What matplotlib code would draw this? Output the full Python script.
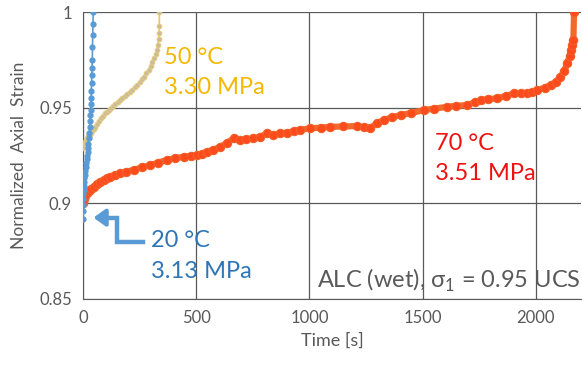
import matplotlib
matplotlib.use("Agg")
import matplotlib.pyplot as plt

plt.rcParams['font.family'] = ['Lato', 'DejaVu Sans']
plt.rcParams['mathtext.fontset'] = 'custom'
plt.rcParams['mathtext.rm'] = 'Lato'

# 20 C, 3.13 MPa
t20 = [0, 0, 0, 0.5, 1, 2, 3, 4, 5, 7, 9, 11, 13, 15, 17, 19, 21, 23, 25, 27,
       29, 31, 32, 33, 34, 35, 36, 37, 38, 39, 40, 41, 42, 43, 44]
e20 = [0.892, 0.896, 0.899, 0.902, 0.905, 0.907, 0.909, 0.911, 0.913, 0.915,
       0.917, 0.919, 0.921, 0.923, 0.925, 0.927, 0.929, 0.931, 0.934, 0.937,
       0.940, 0.943, 0.946, 0.949, 0.952, 0.955, 0.959, 0.963, 0.967, 0.971,
       0.975, 0.982, 0.988, 0.994, 1.0]

# 50 C, 3.30 MPa
t50 = [0, 3, 6, 10, 14, 18, 23, 28, 34, 40, 47, 54, 62, 70, 78, 86, 95, 104,
       113, 122, 132, 142, 152, 162, 172, 183, 194, 205, 216, 227, 238, 249,
       259, 269, 279, 289, 298, 306, 314, 320, 326, 330, 333, 335, 336, 337]
e50 = [0.929, 0.930, 0.931, 0.932, 0.933, 0.934, 0.935, 0.936, 0.937, 0.938,
       0.939, 0.940, 0.9415, 0.943, 0.9445, 0.9458, 0.947, 0.948, 0.949, 0.950,
       0.951, 0.952, 0.953, 0.954, 0.955, 0.956, 0.957, 0.958, 0.9595, 0.961,
       0.962, 0.9635, 0.9648, 0.966, 0.968, 0.970, 0.972, 0.974, 0.976, 0.978,
       0.980, 0.983, 0.986, 0.989, 0.993, 1.0]

# 70 C, 3.51 MPa
t70 = [0, 5, 10, 16, 25, 35, 46, 60, 75, 90, 105, 120, 140, 164, 190, 223,
       260, 296, 330, 370, 405, 444, 475, 503, 525, 547, 575, 606, 635, 665,
       695, 720, 750, 783, 812, 840, 872, 900, 930, 960, 1004, 1050, 1093,
       1150, 1211, 1240, 1270, 1300, 1329, 1365, 1403, 1450, 1506, 1550, 1609,
       1650, 1697, 1730, 1757, 1790, 1830, 1870, 1904, 1935, 1963, 1985, 2007,
       2040, 2066, 2090, 2110, 2125, 2140, 2150, 2155, 2162, 2167, 2170]
e70 = [0.900, 0.902, 0.904, 0.9052, 0.9065, 0.9077, 0.9087, 0.910, 0.911,
       0.9122, 0.913, 0.914, 0.915, 0.9157, 0.9165, 0.9175, 0.9188, 0.920,
       0.9212, 0.9227, 0.9235, 0.9244, 0.9248, 0.9253, 0.926, 0.927, 0.928,
       0.9296, 0.9315, 0.934, 0.9331, 0.9335, 0.934, 0.9348, 0.9366, 0.9358,
       0.9366, 0.937, 0.9377, 0.9385, 0.9392, 0.9396, 0.940, 0.9402, 0.9404,
       0.9398, 0.9395, 0.942, 0.9436, 0.945, 0.9462, 0.9472, 0.9488, 0.9495,
       0.9505, 0.951, 0.9514, 0.9528, 0.954, 0.9545, 0.9549, 0.9562, 0.9575,
       0.9575, 0.9575, 0.958, 0.9592, 0.9605, 0.9619, 0.9635, 0.9662, 0.969,
       0.9732, 0.977, 0.980, 0.983, 0.9854, 1.0]

xticks = [0, 500, 1000, 1500, 2000]
yticks = [0.85, 0.9, 0.95, 1.0]
ytick_labels = ['0.85', '0.9', '0.95', '1']

fig = plt.figure(figsize=(5.82, 3.69), dpi=100)
ax = fig.add_axes([0.143, 0.19, 0.855, 0.777])

ax.plot(t70, e70, '-o', color='#F26A2A', lw=4.5, ms=6,
        mfc='#FF4A1C', mec='#F2602A', mew=0.8, zorder=3, solid_capstyle='round')
ax.plot(t50, e50, '-o', color='#F2C55A', lw=1.2, ms=3.5,
        mfc='#C8BC9C', mec='#E8CB7A', mew=0.6, zorder=4)
ax.plot(t20, e20, '-o', color='#5B9BD5', lw=1.2, ms=3.5,
        mfc='#5B9BD5', mec='#5B9BD5', zorder=5)

ax.set_xlim(0, 2200)
ax.set_ylim(0.85, 1.0)
ax.set_xticks(xticks)
ax.set_yticks(yticks)
ax.set_yticklabels(ytick_labels)
ax.grid(True, color='#595959', lw=0.9)
ax.set_axisbelow(True)
for s in ['top', 'right']:
    ax.spines[s].set_visible(False)
for s in ['left', 'bottom']:
    ax.spines[s].set_color('#595959')
ax.tick_params(length=0, labelsize=12, colors='#595959', pad=8)
ax.set_xlabel('Time [s]', fontsize=13, color='#595959', labelpad=5)
ax.set_ylabel('Normalized  Axial  Strain', fontsize=12.5, color='#595959', labelpad=9)

ax.text(355, 0.982, '50 °C\n3.30 MPa', fontsize=17, color='#F5B800',
        va='top', linespacing=1.55)
ax.text(1555, 0.937, '70 °C\n3.51 MPa', fontsize=17, color='#EE1111',
        va='top', linespacing=1.55)
ax.text(298, 0.8858, '20 °C\n3.13 MPa', fontsize=17, color='#2E75B6',
        va='top', linespacing=1.55)
ax.text(2200, 0.856, r'ALC (wet), σ$_{\mathregular{1}}$ = 0.95 UCS', fontsize=17,
        color='#595959', ha='right', va='baseline')

# bent arrow pointing at the 20 C curve
ax.plot([265, 150, 150, 75], [0.8797, 0.8797, 0.8925, 0.8925],
        color='#5B9BD5', lw=3.2, solid_joinstyle='miter', zorder=6)
ax.annotate('', xy=(45, 0.8925), xytext=(95, 0.8925),
            arrowprops=dict(arrowstyle='-|>,head_length=0.7,head_width=0.5',
                            color='#5B9BD5', lw=3, shrinkA=0, shrinkB=0),
            zorder=6)

fig.savefig('out.png', dpi=100)
